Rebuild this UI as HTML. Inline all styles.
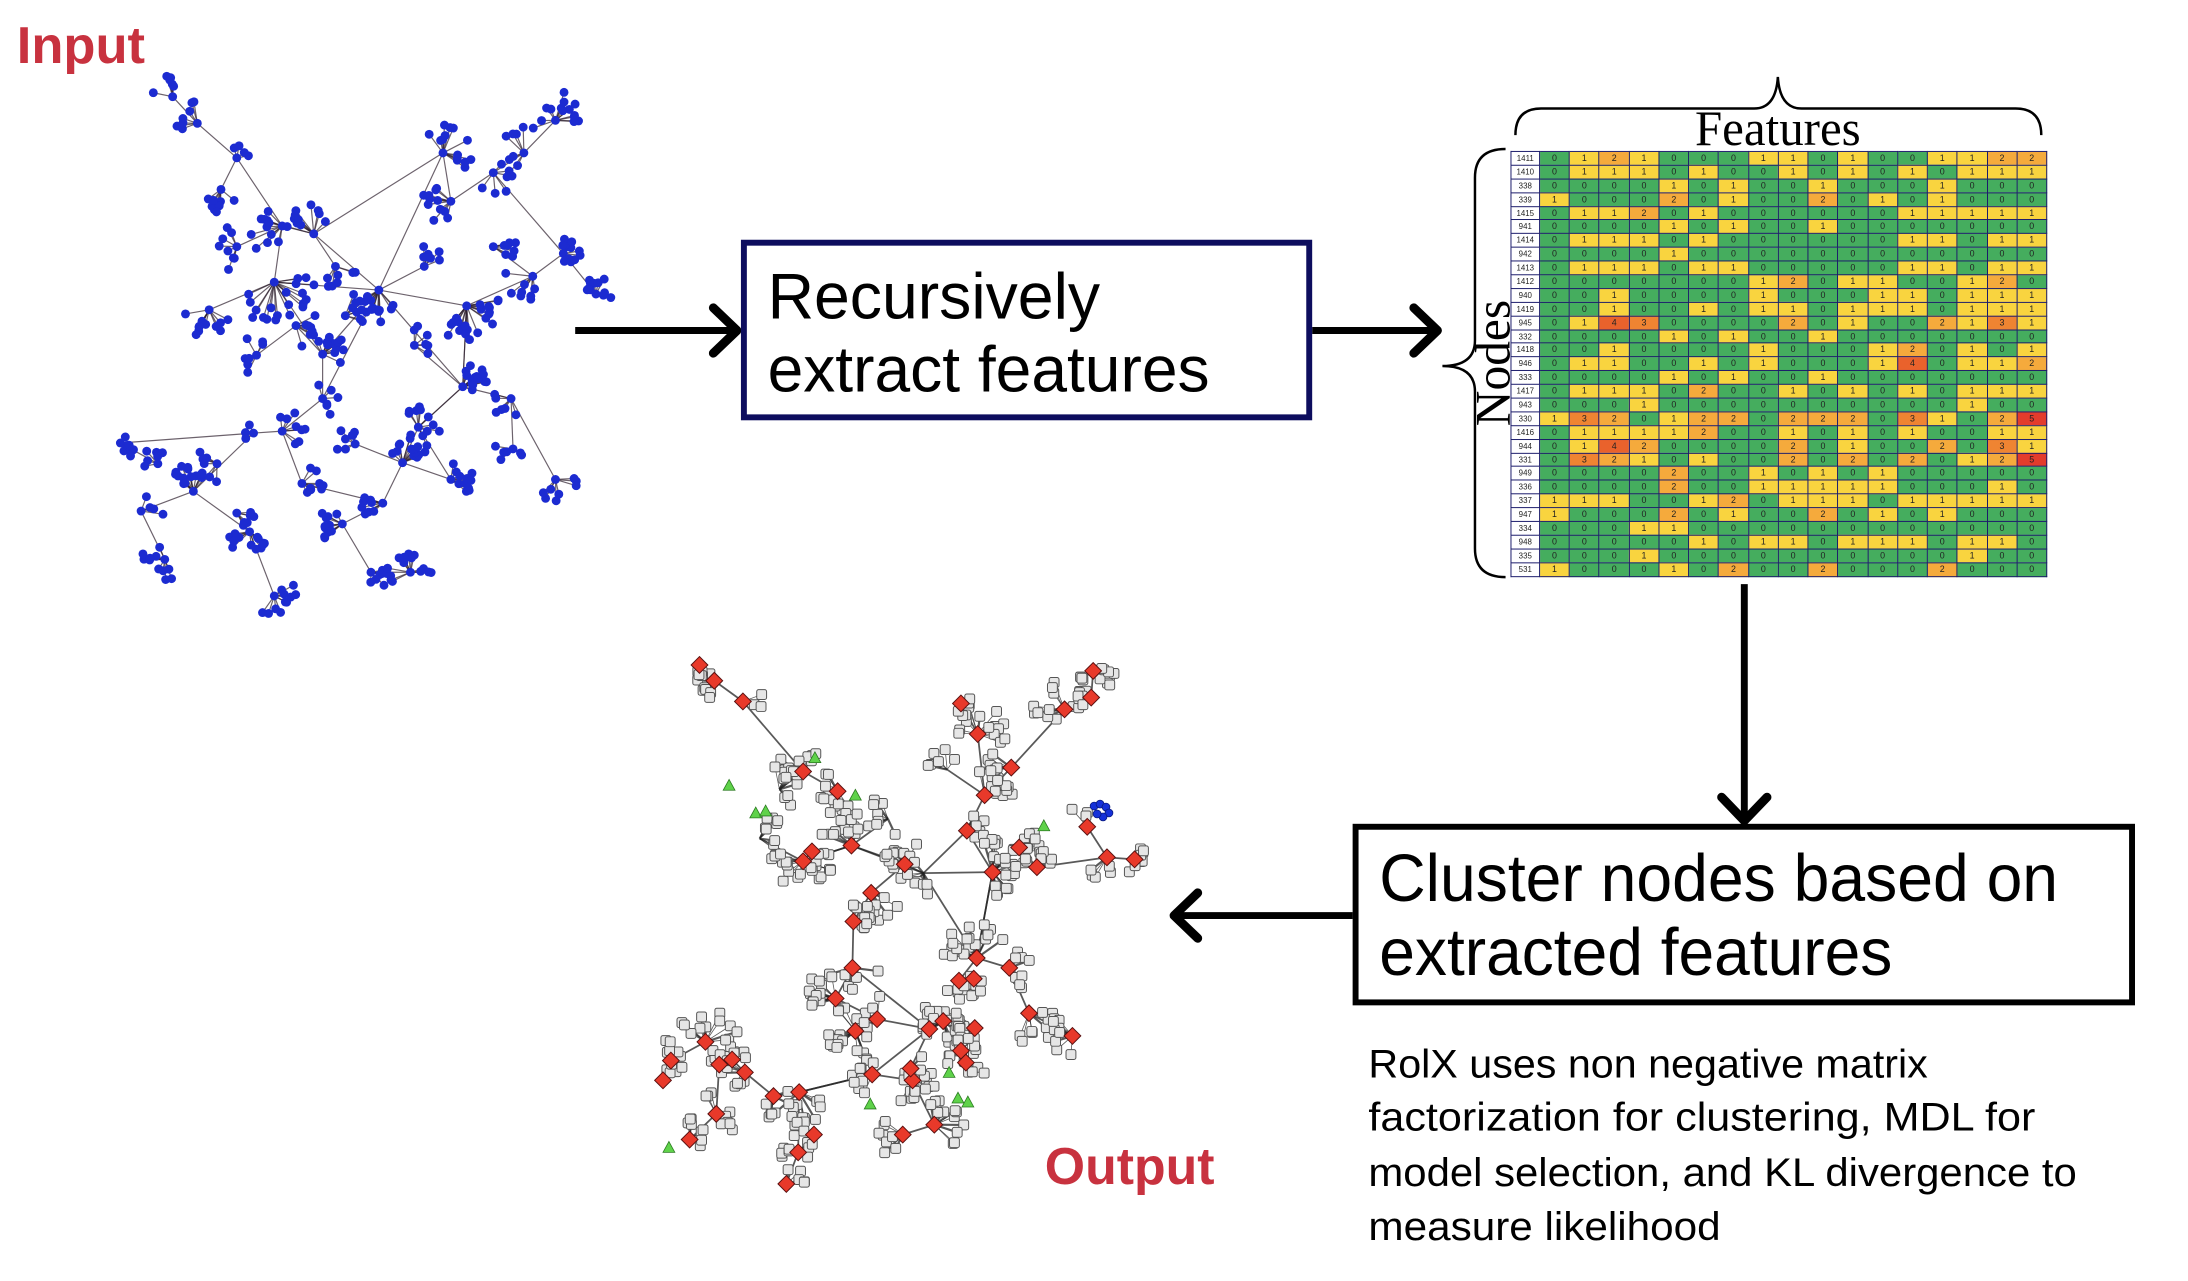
<!DOCTYPE html>
<html><head><meta charset="utf-8">
<style>
html,body{margin:0;padding:0;background:#fff;}
body{width:2188px;height:1280px;position:relative;overflow:hidden;}
#wrap{position:absolute;left:0;top:0;width:2218px;height:1298px;transform:scale(0.9866);transform-origin:0 0;}
svg{position:absolute;left:0;top:0;}
#mx{position:absolute;left:1531px;top:153px;width:544px;height:432px;border-collapse:collapse;table-layout:fixed;font-family:"Liberation Sans Narrow","Liberation Sans",sans-serif;font-size:9px;color:#222;}
#mx td,#mx th{border:1.6px solid #1b1b6b;padding:0;text-align:center;line-height:11px;height:12px;font-weight:normal;}
#mx th{background:#fff;width:28px;font-size:8px;}
.c0{background:#45ad5e}.c1{background:#f9d43f}.c2{background:#f5aa3c}.c3{background:#ef8432}.c4{background:#e9622c}.c5{background:#e33c2c}
</style></head><body>
<div id="wrap">
<svg id="graphs" width="2218" height="1298" viewBox="0 0 2218 1298"></svg>

<table id="mx">
<tr><th>1411</th><td class=c0>0</td><td class=c1>1</td><td class=c2>2</td><td class=c1>1</td><td class=c0>0</td><td class=c0>0</td><td class=c0>0</td><td class=c1>1</td><td class=c1>1</td><td class=c0>0</td><td class=c1>1</td><td class=c0>0</td><td class=c0>0</td><td class=c1>1</td><td class=c1>1</td><td class=c2>2</td><td class=c2>2</td></tr>
<tr><th>1410</th><td class=c0>0</td><td class=c1>1</td><td class=c1>1</td><td class=c1>1</td><td class=c0>0</td><td class=c1>1</td><td class=c0>0</td><td class=c0>0</td><td class=c1>1</td><td class=c0>0</td><td class=c1>1</td><td class=c0>0</td><td class=c1>1</td><td class=c0>0</td><td class=c1>1</td><td class=c1>1</td><td class=c1>1</td></tr>
<tr><th>338</th><td class=c0>0</td><td class=c0>0</td><td class=c0>0</td><td class=c0>0</td><td class=c1>1</td><td class=c0>0</td><td class=c1>1</td><td class=c0>0</td><td class=c0>0</td><td class=c1>1</td><td class=c0>0</td><td class=c0>0</td><td class=c0>0</td><td class=c1>1</td><td class=c0>0</td><td class=c0>0</td><td class=c0>0</td></tr>
<tr><th>339</th><td class=c1>1</td><td class=c0>0</td><td class=c0>0</td><td class=c0>0</td><td class=c2>2</td><td class=c0>0</td><td class=c1>1</td><td class=c0>0</td><td class=c0>0</td><td class=c2>2</td><td class=c0>0</td><td class=c1>1</td><td class=c0>0</td><td class=c1>1</td><td class=c0>0</td><td class=c0>0</td><td class=c0>0</td></tr>
<tr><th>1415</th><td class=c0>0</td><td class=c1>1</td><td class=c1>1</td><td class=c2>2</td><td class=c0>0</td><td class=c1>1</td><td class=c0>0</td><td class=c0>0</td><td class=c0>0</td><td class=c0>0</td><td class=c0>0</td><td class=c0>0</td><td class=c1>1</td><td class=c1>1</td><td class=c1>1</td><td class=c1>1</td><td class=c1>1</td></tr>
<tr><th>941</th><td class=c0>0</td><td class=c0>0</td><td class=c0>0</td><td class=c0>0</td><td class=c1>1</td><td class=c0>0</td><td class=c1>1</td><td class=c0>0</td><td class=c0>0</td><td class=c1>1</td><td class=c0>0</td><td class=c0>0</td><td class=c0>0</td><td class=c0>0</td><td class=c0>0</td><td class=c0>0</td><td class=c0>0</td></tr>
<tr><th>1414</th><td class=c0>0</td><td class=c1>1</td><td class=c1>1</td><td class=c1>1</td><td class=c0>0</td><td class=c1>1</td><td class=c0>0</td><td class=c0>0</td><td class=c0>0</td><td class=c0>0</td><td class=c0>0</td><td class=c0>0</td><td class=c1>1</td><td class=c1>1</td><td class=c0>0</td><td class=c1>1</td><td class=c1>1</td></tr>
<tr><th>942</th><td class=c0>0</td><td class=c0>0</td><td class=c0>0</td><td class=c0>0</td><td class=c1>1</td><td class=c0>0</td><td class=c0>0</td><td class=c0>0</td><td class=c0>0</td><td class=c0>0</td><td class=c0>0</td><td class=c0>0</td><td class=c0>0</td><td class=c0>0</td><td class=c0>0</td><td class=c0>0</td><td class=c0>0</td></tr>
<tr><th>1413</th><td class=c0>0</td><td class=c1>1</td><td class=c1>1</td><td class=c1>1</td><td class=c0>0</td><td class=c1>1</td><td class=c1>1</td><td class=c0>0</td><td class=c0>0</td><td class=c0>0</td><td class=c0>0</td><td class=c0>0</td><td class=c1>1</td><td class=c1>1</td><td class=c0>0</td><td class=c1>1</td><td class=c1>1</td></tr>
<tr><th>1412</th><td class=c0>0</td><td class=c0>0</td><td class=c0>0</td><td class=c0>0</td><td class=c0>0</td><td class=c0>0</td><td class=c0>0</td><td class=c1>1</td><td class=c2>2</td><td class=c0>0</td><td class=c1>1</td><td class=c1>1</td><td class=c0>0</td><td class=c0>0</td><td class=c1>1</td><td class=c2>2</td><td class=c0>0</td></tr>
<tr><th>940</th><td class=c0>0</td><td class=c0>0</td><td class=c1>1</td><td class=c0>0</td><td class=c0>0</td><td class=c0>0</td><td class=c0>0</td><td class=c1>1</td><td class=c0>0</td><td class=c0>0</td><td class=c0>0</td><td class=c1>1</td><td class=c1>1</td><td class=c0>0</td><td class=c1>1</td><td class=c1>1</td><td class=c1>1</td></tr>
<tr><th>1419</th><td class=c0>0</td><td class=c0>0</td><td class=c1>1</td><td class=c0>0</td><td class=c0>0</td><td class=c1>1</td><td class=c0>0</td><td class=c1>1</td><td class=c1>1</td><td class=c0>0</td><td class=c1>1</td><td class=c1>1</td><td class=c1>1</td><td class=c0>0</td><td class=c1>1</td><td class=c1>1</td><td class=c1>1</td></tr>
<tr><th>945</th><td class=c0>0</td><td class=c1>1</td><td class=c4>4</td><td class=c3>3</td><td class=c0>0</td><td class=c0>0</td><td class=c0>0</td><td class=c0>0</td><td class=c2>2</td><td class=c0>0</td><td class=c1>1</td><td class=c0>0</td><td class=c0>0</td><td class=c2>2</td><td class=c1>1</td><td class=c3>3</td><td class=c1>1</td></tr>
<tr><th>332</th><td class=c0>0</td><td class=c0>0</td><td class=c0>0</td><td class=c0>0</td><td class=c1>1</td><td class=c0>0</td><td class=c1>1</td><td class=c0>0</td><td class=c0>0</td><td class=c1>1</td><td class=c0>0</td><td class=c0>0</td><td class=c0>0</td><td class=c0>0</td><td class=c0>0</td><td class=c0>0</td><td class=c0>0</td></tr>
<tr><th>1418</th><td class=c0>0</td><td class=c0>0</td><td class=c1>1</td><td class=c0>0</td><td class=c0>0</td><td class=c0>0</td><td class=c0>0</td><td class=c1>1</td><td class=c0>0</td><td class=c0>0</td><td class=c0>0</td><td class=c1>1</td><td class=c2>2</td><td class=c0>0</td><td class=c1>1</td><td class=c0>0</td><td class=c1>1</td></tr>
<tr><th>946</th><td class=c0>0</td><td class=c1>1</td><td class=c1>1</td><td class=c0>0</td><td class=c0>0</td><td class=c1>1</td><td class=c0>0</td><td class=c1>1</td><td class=c0>0</td><td class=c0>0</td><td class=c0>0</td><td class=c1>1</td><td class=c4>4</td><td class=c0>0</td><td class=c1>1</td><td class=c1>1</td><td class=c2>2</td></tr>
<tr><th>333</th><td class=c0>0</td><td class=c0>0</td><td class=c0>0</td><td class=c0>0</td><td class=c1>1</td><td class=c0>0</td><td class=c1>1</td><td class=c0>0</td><td class=c0>0</td><td class=c1>1</td><td class=c0>0</td><td class=c0>0</td><td class=c0>0</td><td class=c0>0</td><td class=c0>0</td><td class=c0>0</td><td class=c0>0</td></tr>
<tr><th>1417</th><td class=c0>0</td><td class=c1>1</td><td class=c1>1</td><td class=c1>1</td><td class=c0>0</td><td class=c2>2</td><td class=c0>0</td><td class=c0>0</td><td class=c1>1</td><td class=c0>0</td><td class=c1>1</td><td class=c0>0</td><td class=c1>1</td><td class=c0>0</td><td class=c1>1</td><td class=c1>1</td><td class=c1>1</td></tr>
<tr><th>943</th><td class=c0>0</td><td class=c0>0</td><td class=c0>0</td><td class=c1>1</td><td class=c0>0</td><td class=c0>0</td><td class=c0>0</td><td class=c0>0</td><td class=c0>0</td><td class=c0>0</td><td class=c0>0</td><td class=c0>0</td><td class=c0>0</td><td class=c0>0</td><td class=c1>1</td><td class=c0>0</td><td class=c0>0</td></tr>
<tr><th>330</th><td class=c1>1</td><td class=c3>3</td><td class=c2>2</td><td class=c0>0</td><td class=c1>1</td><td class=c2>2</td><td class=c2>2</td><td class=c0>0</td><td class=c2>2</td><td class=c2>2</td><td class=c2>2</td><td class=c0>0</td><td class=c3>3</td><td class=c1>1</td><td class=c0>0</td><td class=c2>2</td><td class=c5>5</td></tr>
<tr><th>1416</th><td class=c0>0</td><td class=c1>1</td><td class=c1>1</td><td class=c1>1</td><td class=c1>1</td><td class=c2>2</td><td class=c0>0</td><td class=c0>0</td><td class=c1>1</td><td class=c0>0</td><td class=c1>1</td><td class=c0>0</td><td class=c1>1</td><td class=c0>0</td><td class=c0>0</td><td class=c1>1</td><td class=c1>1</td></tr>
<tr><th>944</th><td class=c0>0</td><td class=c1>1</td><td class=c4>4</td><td class=c2>2</td><td class=c0>0</td><td class=c0>0</td><td class=c0>0</td><td class=c0>0</td><td class=c2>2</td><td class=c0>0</td><td class=c1>1</td><td class=c0>0</td><td class=c0>0</td><td class=c2>2</td><td class=c0>0</td><td class=c3>3</td><td class=c1>1</td></tr>
<tr><th>331</th><td class=c0>0</td><td class=c3>3</td><td class=c2>2</td><td class=c1>1</td><td class=c0>0</td><td class=c1>1</td><td class=c0>0</td><td class=c0>0</td><td class=c2>2</td><td class=c0>0</td><td class=c2>2</td><td class=c0>0</td><td class=c2>2</td><td class=c0>0</td><td class=c1>1</td><td class=c2>2</td><td class=c5>5</td></tr>
<tr><th>949</th><td class=c0>0</td><td class=c0>0</td><td class=c0>0</td><td class=c0>0</td><td class=c2>2</td><td class=c0>0</td><td class=c0>0</td><td class=c1>1</td><td class=c0>0</td><td class=c1>1</td><td class=c0>0</td><td class=c1>1</td><td class=c0>0</td><td class=c0>0</td><td class=c0>0</td><td class=c0>0</td><td class=c0>0</td></tr>
<tr><th>336</th><td class=c0>0</td><td class=c0>0</td><td class=c0>0</td><td class=c0>0</td><td class=c2>2</td><td class=c0>0</td><td class=c0>0</td><td class=c1>1</td><td class=c1>1</td><td class=c1>1</td><td class=c1>1</td><td class=c1>1</td><td class=c0>0</td><td class=c0>0</td><td class=c0>0</td><td class=c1>1</td><td class=c0>0</td></tr>
<tr><th>337</th><td class=c1>1</td><td class=c1>1</td><td class=c1>1</td><td class=c0>0</td><td class=c0>0</td><td class=c1>1</td><td class=c2>2</td><td class=c0>0</td><td class=c1>1</td><td class=c1>1</td><td class=c1>1</td><td class=c0>0</td><td class=c1>1</td><td class=c1>1</td><td class=c1>1</td><td class=c1>1</td><td class=c1>1</td></tr>
<tr><th>947</th><td class=c1>1</td><td class=c0>0</td><td class=c0>0</td><td class=c0>0</td><td class=c2>2</td><td class=c0>0</td><td class=c1>1</td><td class=c0>0</td><td class=c0>0</td><td class=c2>2</td><td class=c0>0</td><td class=c1>1</td><td class=c0>0</td><td class=c1>1</td><td class=c0>0</td><td class=c0>0</td><td class=c0>0</td></tr>
<tr><th>334</th><td class=c0>0</td><td class=c0>0</td><td class=c0>0</td><td class=c1>1</td><td class=c1>1</td><td class=c0>0</td><td class=c0>0</td><td class=c0>0</td><td class=c0>0</td><td class=c0>0</td><td class=c0>0</td><td class=c0>0</td><td class=c0>0</td><td class=c0>0</td><td class=c0>0</td><td class=c0>0</td><td class=c0>0</td></tr>
<tr><th>948</th><td class=c0>0</td><td class=c0>0</td><td class=c0>0</td><td class=c0>0</td><td class=c0>0</td><td class=c1>1</td><td class=c0>0</td><td class=c1>1</td><td class=c1>1</td><td class=c0>0</td><td class=c1>1</td><td class=c1>1</td><td class=c1>1</td><td class=c0>0</td><td class=c1>1</td><td class=c1>1</td><td class=c0>0</td></tr>
<tr><th>335</th><td class=c0>0</td><td class=c0>0</td><td class=c0>0</td><td class=c1>1</td><td class=c0>0</td><td class=c0>0</td><td class=c0>0</td><td class=c0>0</td><td class=c0>0</td><td class=c0>0</td><td class=c0>0</td><td class=c0>0</td><td class=c0>0</td><td class=c0>0</td><td class=c1>1</td><td class=c0>0</td><td class=c0>0</td></tr>
<tr><th>531</th><td class=c1>1</td><td class=c0>0</td><td class=c0>0</td><td class=c0>0</td><td class=c1>1</td><td class=c0>0</td><td class=c2>2</td><td class=c0>0</td><td class=c0>0</td><td class=c2>2</td><td class=c0>0</td><td class=c0>0</td><td class=c0>0</td><td class=c2>2</td><td class=c0>0</td><td class=c0>0</td><td class=c0>0</td></tr>
</table>

<svg width="2218" height="1298" viewBox="0 0 2218 1298">
  <text x="17" y="64" font-family="Liberation Sans, sans-serif" font-weight="bold" font-size="53" fill="#c8323f" textLength="130" lengthAdjust="spacingAndGlyphs">Input</text>
  <text x="1059" y="1200" font-family="Liberation Sans, sans-serif" font-weight="bold" font-size="53" fill="#c8323f" textLength="172" lengthAdjust="spacingAndGlyphs">Output</text>

  <g stroke="#000" fill="none" stroke-linecap="round" stroke-linejoin="round">
    <line x1="583" y1="335" x2="745" y2="335" stroke-width="7" stroke-linecap="butt"/>
    <polyline points="723,312 747,335 723,358" stroke-width="9"/>
    <line x1="1330" y1="335" x2="1455" y2="335" stroke-width="7" stroke-linecap="butt"/>
    <polyline points="1433,312 1457,335 1433,358" stroke-width="9"/>
    <line x1="1768" y1="592" x2="1768" y2="830" stroke-width="7" stroke-linecap="butt"/>
    <polyline points="1745,808 1768,832 1791,808" stroke-width="9"/>
    <line x1="1371" y1="928" x2="1192" y2="928" stroke-width="7" stroke-linecap="butt"/>
    <polyline points="1214,905 1190,928 1214,951" stroke-width="9"/>
  </g>

  <rect x="754" y="246" width="573" height="177" fill="#fff" stroke="#0d0d5e" stroke-width="6"/>
  <text x="778" y="323" font-family="Liberation Sans, sans-serif" font-size="66" textLength="337" lengthAdjust="spacingAndGlyphs">Recursively</text>
  <text x="778" y="397" font-family="Liberation Sans, sans-serif" font-size="66" textLength="448" lengthAdjust="spacingAndGlyphs">extract features</text>

  <rect x="1374" y="838" width="787" height="178" fill="#fff" stroke="#000" stroke-width="6"/>
  <text x="1398" y="913" font-family="Liberation Sans, sans-serif" font-size="68" textLength="688" lengthAdjust="spacingAndGlyphs">Cluster nodes based on</text>
  <text x="1398" y="988" font-family="Liberation Sans, sans-serif" font-size="68" textLength="520" lengthAdjust="spacingAndGlyphs">extracted features</text>

  <g font-family="Liberation Sans, sans-serif" font-size="40" fill="#000">
    <text x="1387" y="1092" textLength="567" lengthAdjust="spacingAndGlyphs">RolX uses non negative matrix</text>
    <text x="1387" y="1146" textLength="676" lengthAdjust="spacingAndGlyphs">factorization for clustering, MDL for</text>
    <text x="1387" y="1202" textLength="718" lengthAdjust="spacingAndGlyphs">model selection, and KL divergence to</text>
    <text x="1387" y="1257" textLength="357" lengthAdjust="spacingAndGlyphs">measure likelihood</text>
  </g>

  <path d="M1536,137 Q1536,110 1562,110 L1778,110 Q1800,110 1802,78 Q1804,110 1826,110 L2043,110 Q2069,110 2069,137" fill="none" stroke="#000" stroke-width="2.5"/>
  <text x="1802" y="147" text-anchor="middle" font-family="Liberation Serif, serif" font-size="50" textLength="168" lengthAdjust="spacingAndGlyphs">Features</text>
  <path d="M1526,151 Q1495,151 1495,180 L1495,345 Q1495,371 1462,371 Q1495,371 1495,397 L1495,556 Q1495,585 1526,585" fill="none" stroke="#000" stroke-width="2.5"/>
  <text transform="translate(1530,368) rotate(-90)" x="0" y="0" text-anchor="middle" font-family="Liberation Serif, serif" font-size="50" textLength="128" lengthAdjust="spacingAndGlyphs">Nodes</text>
</svg>
</div>

<script>
(function(){
var s=12345;function r(){s=(s*1103515245+12345)%2147483648;return s/2147483648;}
var out='';
function build(hubs,mult){
  var H=[],E=[],L=[];
  for(var i=0;i<hubs.length;i++){
    var h=hubs[i];H.push([h[0],h[1]]);
    if(i>0){var bj=0,bd=1e9;for(var j=0;j<i;j++){var dx=hubs[j][0]-h[0],dy=hubs[j][1]-h[1],d=dx*dx+dy*dy;if(d<bd){bd=d;bj=j;}}E.push([h[0],h[1],hubs[bj][0],hubs[bj][1],1]);}
    var a0=r()*6.283,sp=1.6+r()*2.5,n=Math.round(h[2]*mult);
    for(var k=0;k<n;k++){var a=a0+(r()-0.5)*sp,d=h[3]*(0.45+0.75*r());var lx=h[0]+Math.cos(a)*d,ly=h[1]+Math.sin(a)*d;L.push([lx,ly]);E.push([h[0],h[1],lx,ly,0]);}
  }
  return {H:H,E:E,L:L};
}
var in1=[[175,98,4,18],[200,125,5,20],[240,160,3,15],[286,229,8,30],[224,192,6,20],[278,286,14,35],[212,314,8,25],[240,250,6,22],[318,237,8,25],[384,294,10,28],[340,270,5,18],[449,155,10,25],[457,204,8,25],[500,175,4,20],[531,155,6,25],[563,122,10,25],[571,257,10,15],[604,298,8,15],[540,280,6,25],[473,310,16,30],[430,270,5,20],[469,392,10,22],[518,404,4,25],[563,486,6,20],[520,455,4,15],[327,359,8,20],[327,404,4,15],[286,437,6,20],[257,439,2,10],[424,433,8,20],[408,469,10,25],[457,486,8,20],[388,510,6,20],[347,531,8,20],[306,490,6,20],[122,449,6,15],[196,498,10,25],[143,518,3,20],[253,539,10,20],[167,567,8,20],[278,604,8,20],[376,580,6,18],[416,580,10,20],[240,520,4,15],[160,470,4,15],[300,330,6,20],[350,320,5,20],[260,360,5,18],[420,350,4,18],[500,250,5,20],[360,450,5,18],[220,470,5,18]];
var g=build(in1,1.4);
var extra=[[384,294,473,310],[327,404,384,294],[469,392,473,310],[424,433,469,392],[388,510,306,490],[278,286,384,294],[318,237,449,155],[457,486,424,433],[384,294,469,392],[278,286,327,359]];
out+='<g stroke="#2e1f2e" stroke-opacity="0.7" stroke-width="1.2">';
g.E.concat(extra.map(function(e){return e.concat(1)})).forEach(function(e){out+='<line x1="'+e[0].toFixed(1)+'" y1="'+e[1].toFixed(1)+'" x2="'+e[2].toFixed(1)+'" y2="'+e[3].toFixed(1)+'"/>';});
out+='</g><g fill="#1c2bd1">';
g.H.concat(g.L).forEach(function(p){out+='<circle cx="'+p[0].toFixed(1)+'" cy="'+p[1].toFixed(1)+'" r="4.5"/>';});
out+='</g>';
var o=[[709,674,4,14],[724,690,5,16],[753,711,2,18],[814,782,8,22],[849,802,8,20],[863,857,10,28],[814,873,12,28],[823,863,4,15],[917,876,8,20],[883,905,6,25],[865,934,6,18],[936,885,5,20],[980,842,5,18],[998,806,10,25],[991,744,9,28],[974,713,3,12],[1025,778,6,22],[1079,719,6,28],[1106,707,6,18],[1108,680,8,20],[1006,884,14,30],[1033,859,6,18],[1051,879,6,18],[1122,869,3,20],[1150,871,5,12],[1102,838,2,20],[990,971,12,30],[1023,981,6,22],[972,994,6,18],[987,992,4,15],[864,981,4,22],[847,1012,8,28],[889,1033,4,20],[867,1045,10,25],[942,1043,8,22],[956,1035,6,20],[988,1042,10,24],[974,1065,6,20],[979,1077,6,22],[1043,1027,6,25],[1087,1050,6,22],[884,1089,8,22],[925,1095,8,22],[923,1083,4,15],[947,1140,8,25],[810,1107,8,28],[784,1111,4,18],[755,1087,6,20],[742,1074,4,18],[729,1079,4,16],[715,1056,8,28],[726,1129,6,20],[699,1155,5,18],[809,1168,4,20],[797,1200,3,18],[680,1075,4,20],[672,1095,3,20],[825,1150,4,20],[915,1150,5,22],[790,800,6,22],[770,850,6,22],[900,830,5,20],[960,780,4,18]];
var g2=build(o,1.5);
var ex2=[[936,885,1006,884],[936,885,990,971],[864,981,942,1043],[884,1089,942,1043],[1006,884,990,971],[942,1043,923,1083],[810,1107,884,1089],[863,857,936,885],[814,873,863,857]];
out+='<g stroke="#222" stroke-opacity="0.75">';
g2.E.concat(ex2.map(function(e){return e.concat(1)})).forEach(function(e){out+='<line x1="'+e[0].toFixed(1)+'" y1="'+e[1].toFixed(1)+'" x2="'+e[2].toFixed(1)+'" y2="'+e[3].toFixed(1)+'" stroke-width="'+(e[4]?1.8:(r()<0.3?2.2:0.8))+'"/>';});
out+='</g><g fill="#e6e6e6" stroke="#555" stroke-width="1">';
g2.L.forEach(function(p){out+='<rect x="'+(p[0]-5).toFixed(1)+'" y="'+(p[1]-5).toFixed(1)+'" width="10" height="10" rx="2"/>';});
out+='</g><g fill="#e8392a" stroke="#5a1010" stroke-width="1">';
g2.H.forEach(function(p,i){if(i==11||i>=59)return;out+='<rect x="-6" y="-6" width="12" height="12" transform="translate('+p[0]+','+p[1]+') rotate(45)"/>';});
out+='</g><g fill="#5fd24a" stroke="#2a7a20" stroke-width="0.8">';
[[826,768],[739,796],[766,824],[776,822],[867,806],[1058,837],[962,1087],[971,1113],[981,1117],[882,1119],[678,1163]].forEach(function(p){out+='<polygon points="'+p[0]+','+(p[1]-6)+' '+(p[0]+6)+','+(p[1]+5)+' '+(p[0]-6)+','+(p[1]+5)+'"/>';});
out+='</g><g fill="#1530d8" stroke="#0a1a80" stroke-width="0.8">';
[[1109,817],[1115,815],[1121,818],[1124,824],[1118,828],[1112,825]].forEach(function(p){out+='<circle cx="'+p[0]+'" cy="'+p[1]+'" r="4"/>';});
out+='</g>';
document.getElementById('graphs').innerHTML=out;
})();
</script>
</body></html>
